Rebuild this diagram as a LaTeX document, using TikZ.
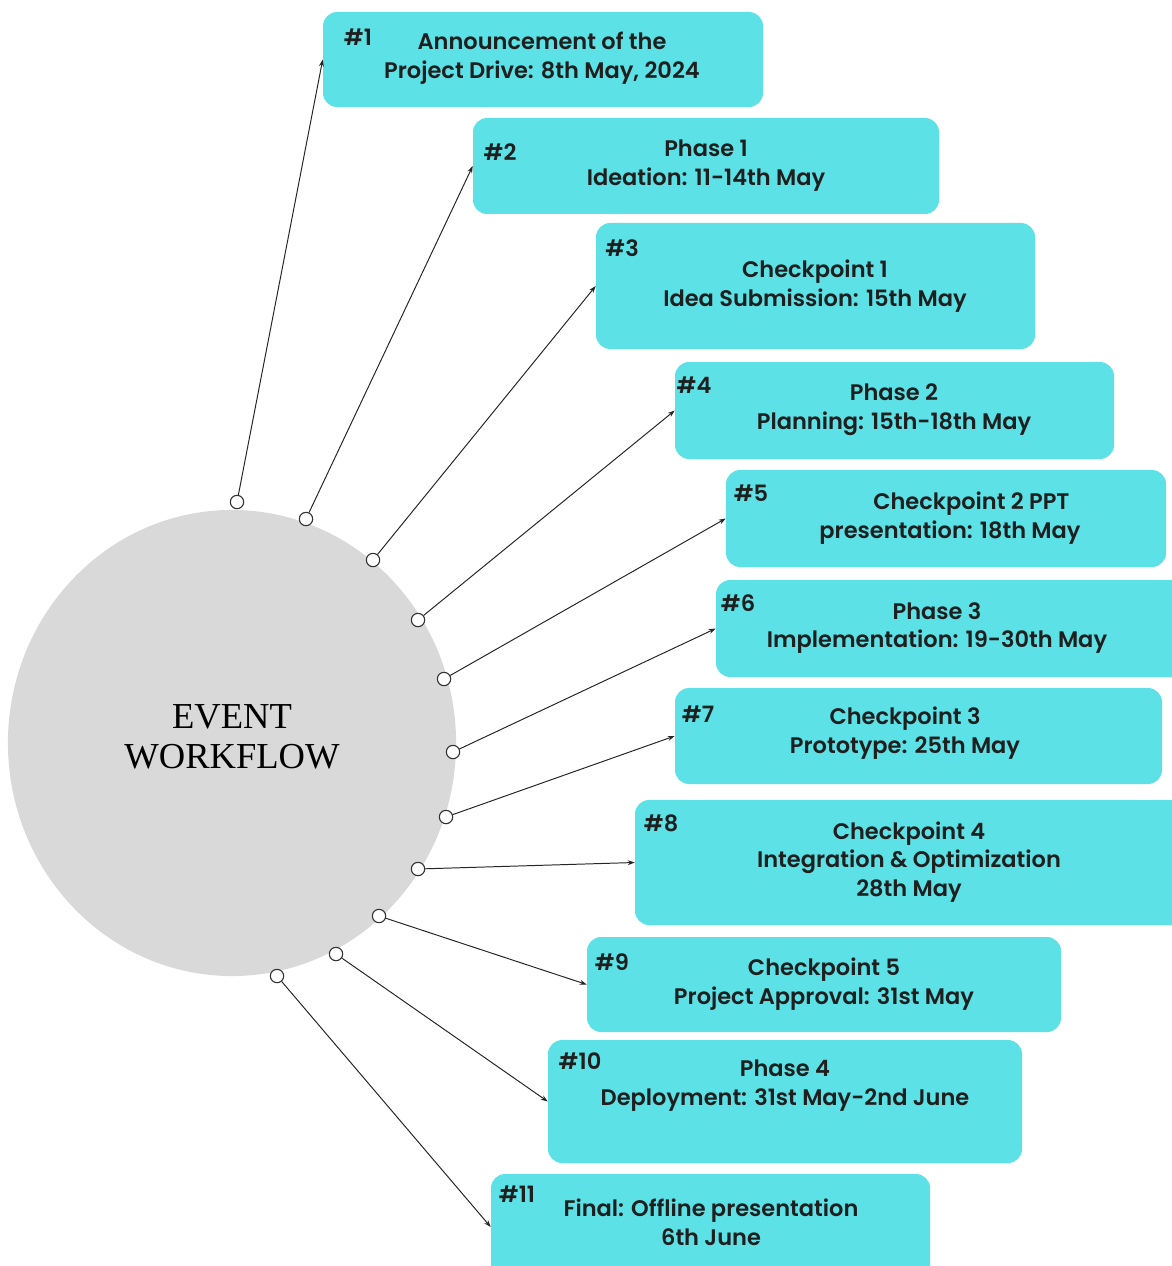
\documentclass[tikz,border=0pt]{standalone}
\usepackage{fontspec}
\setmainfont{Poppins}[BoldFont={* SemiBold}]
\newfontfamily\titlefont{Liberation Serif}
\usepackage{tikz}
\usetikzlibrary{arrows.meta,fit,positioning,shapes.geometric}
\definecolor{cardcyan}{HTML}{5CE1E6}
\definecolor{discgray}{HTML}{D9D9D9}

\begin{document}
\begin{tikzpicture}[x=0.025cm,y=-0.025cm,% one unit = one pixel of the sketch
					every node/.style={align=center},
					card/.style={rectangle,rounded corners=10pt,fill=cardcyan,inner sep=0pt},
					cardtext/.style={font=\bfseries\fontsize{16}{20.5}\selectfont,text=black!88},
					tag/.style={font=\bfseries\fontsize{16}{18}\selectfont,text=black!88},
					dot/.style={circle,draw=black!80,line width=0.8pt,fill=white,minimum size=9.5pt,inner sep=0pt},
					link/.style={draw=black!85,line width=0.7pt,-{Stealth[length=5pt,width=3.5pt]}}
					]
\useasboundingbox (0,0) rectangle (1171,1266);

% the big disc
\node[ellipse,fill=discgray,minimum width=11.2cm,minimum height=11.65cm](hub) at (232,743){};
\node[font=\titlefont\fontsize{26}{28.5}\selectfont](title) at (232,737){EVENT\\WORKFLOW};

% the cards
\node[card,fit={(323,12) (763,107)}](b1){};
\node[card,fit={(473,118) (939,214)}](b2){};
\node[card,fit={(596,223) (1035,349)}](b3){};
\node[card,fit={(675,362) (1114,459)}](b4){};
\node[card,fit={(726,470) (1166,567)}](b5){};
\node[card,fit={(716,580) (1185,677)}](b6){};
\node[card,fit={(675,688) (1162,784)}](b7){};
\node[card,fit={(635,800) (1185,925)}](b8){};
\node[card,fit={(587,937) (1061,1032)}](b9){};
\node[card,fit={(548,1040) (1022,1163)}](b10){};
\node[card,fit={(491,1174) (930,1280)}](b11){};

% texts of the cards
\node[cardtext](t1) at (542,58){Announcement of the\\Project Drive: 8th May, 2024};
\node[cardtext](t2) at (706,166){Phase 1\\Ideation: 11-14th May};
\node[cardtext](t3) at (815,286){Checkpoint 1\\Idea Submission: 15th May};
\node[cardtext](t4) at (894,410){Phase 2\\Planning: 15th-18th May};
\node[cardtext](t5) at (950,518){\hspace*{1.9em}Checkpoint 2 PPT\\presentation: 18th May};
\node[cardtext](t6) at (937,628){Phase 3\\Implementation: 19-30th May};
\node[cardtext](t7) at (905,733){Checkpoint 3\\Prototype: 25th May};
\node[cardtext](t8) at (909,862){Checkpoint 4\\Integration \& Optimization\\28th May};
\node[cardtext](t9) at (824,984){Checkpoint 5\\Project Approval: 31st May};
\node[cardtext](t10) at (785,1086){Phase 4\\Deployment: 31st May-2nd June};
\node[cardtext](t11) at (711,1222){Final: Offline presentation\\6th June};

% numbers
\node[tag](h1) at (358,37){\#1};
\node[tag](h2) at (500,152){\#2};
\node[tag](h3) at (622,248){\#3};
\node[tag](h4) at (694,385){\#4};
\node[tag](h5) at (751,493){\#5};
\node[tag](h6) at (738,603){\#6};
\node[tag](h7) at (698,714){\#7};
\node[tag](h8) at (661,823){\#8};
\node[tag](h9) at (612,962){\#9};
\node[tag](h10) at (580,1061){\#10};
\node[tag](h11) at (517,1194){\#11};

% small rings on the disc
\node[dot](d1) at (237,502){};
\node[dot](d2) at (306,519){};
\node[dot](d3) at (373,560){};
\node[dot](d4) at (418,620){};
\node[dot](d5) at (444,679){};
\node[dot](d6) at (453,752){};
\node[dot](d7) at (446,817){};
\node[dot](d8) at (418,869){};
\node[dot](d9) at (379,916){};
\node[dot](d10) at (336,954){};
\node[dot](d11) at (277,976){};

\foreach \i in {1,...,11}
	\path[link] (d\i) -- (b\i.west);
\end{tikzpicture}
\end{document}
